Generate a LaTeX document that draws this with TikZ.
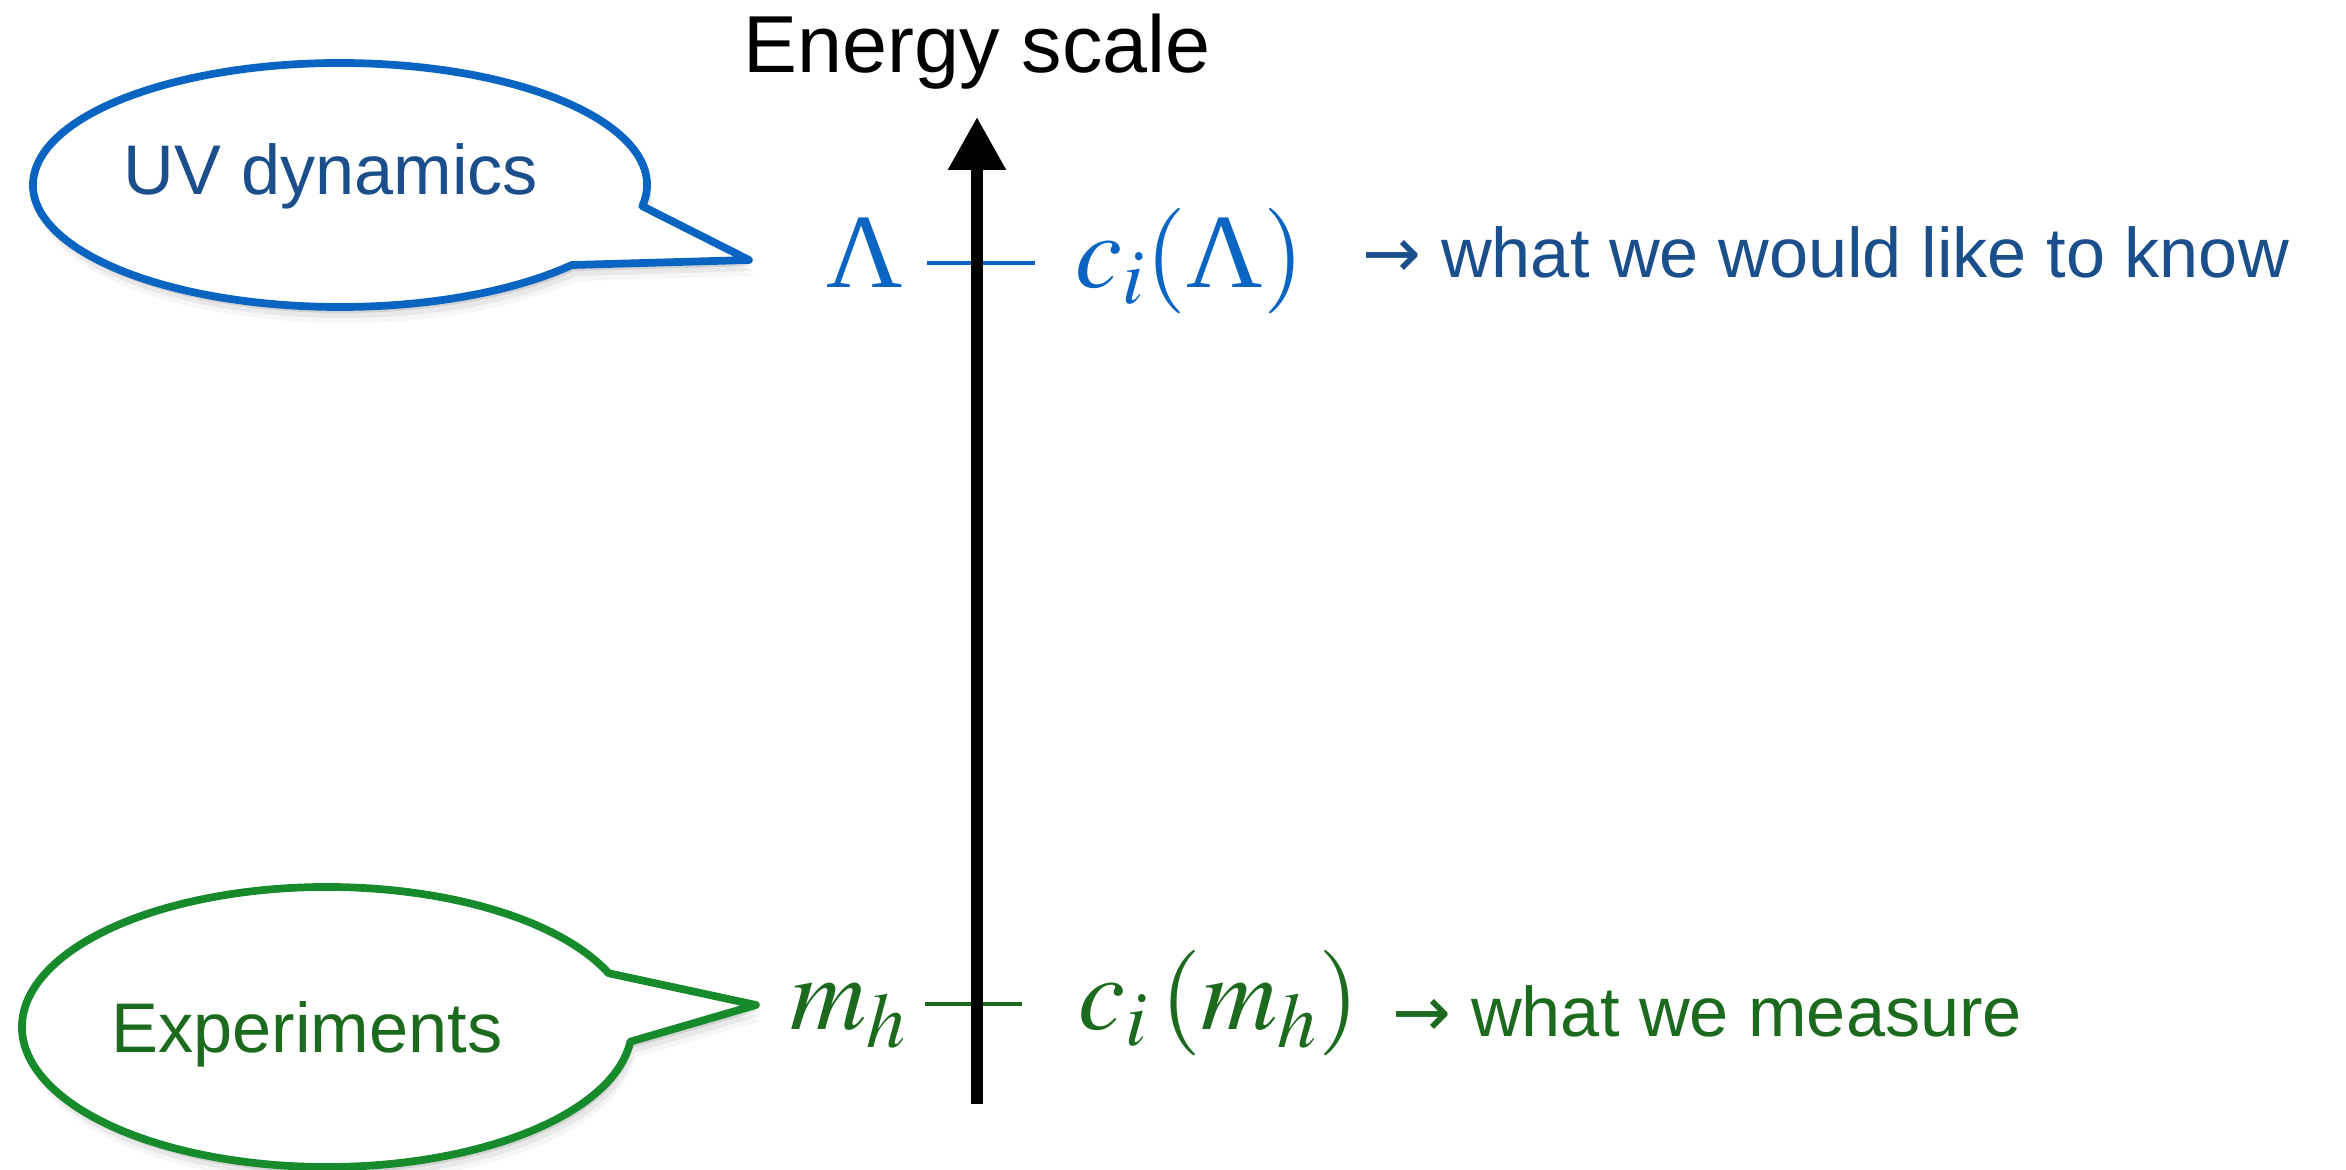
\RequirePackage{fix-cm}
\documentclass[tikz,border=0pt]{standalone}
\usepackage{mathptmx}
\usepackage{fontspec}
\setmainfont{Liberation Sans}
\newfontfamily\arrowfont{DejaVu Sans}
\newfontfamily\serifgreek{Liberation Serif}
\newcommand{\Lam}{\mbox{\serifgreek Λ}}
\usetikzlibrary{positioning,arrows.meta,calc,shadows}
\definecolor{UVblue}{HTML}{0A64C2}
\definecolor{UVtext}{HTML}{1A4F8C}
\definecolor{EXgreen}{HTML}{178A2C}
\definecolor{EXtext}{HTML}{1B6A1E}
\tikzset{
  axis/.style={line width=3.4pt,-{Triangle[length=5.3mm,width=5.5mm]}},
  scaletick/.style={line width=1.2pt},
  bubble/.style={line width=2.2pt,fill=white,line join=round,
    drop shadow={shadow xshift=0.5mm,shadow yshift=-1.6mm,opacity=0.07},
    drop shadow={shadow xshift=0.4mm,shadow yshift=-1.1mm,opacity=0.12},
    drop shadow={shadow xshift=0.2mm,shadow yshift=-0.6mm,opacity=0.22}},
  lbl/.style={font=\fontsize{20}{24}\selectfont,inner sep=0pt},
  mathlbl/.style={font=\fontsize{30}{34}\selectfont,inner sep=0pt}
}

\begin{document}
\begin{tikzpicture}
\useasboundingbox (0,0) rectangle (23.46,-11.70);

% speech bubbles
\coordinate (uvc) at (3.40,-1.85);
\coordinate (uvtip) at (7.49,-2.60);
\draw[bubble, draw=UVblue] ($(uvc)+(-10:3.07 and 1.22)$) arc[start angle=-10,end angle=319,x radius=3.07,y radius=1.22] -- (uvtip) -- cycle;
\node[lbl, text=UVtext, anchor=base] (uv) at (3.31,-1.95) {UV dynamics};

\coordinate (exc) at (3.27,-10.27);
\coordinate (extip) at (7.56,-10.05);
\draw[bubble, draw=EXgreen] ($(exc)+(22.6:3.05 and 1.40)$) arc[start angle=22.6,end angle=354,x radius=3.05,y radius=1.40] -- (extip) -- cycle;
\node[lbl, text=EXtext, anchor=base] (ex) at (3.07,-10.52) {Experiments};

% scale ticks
\coordinate (lamL) at (9.27,-2.63);
\coordinate (lamR) at (10.35,-2.63);
\draw[scaletick, UVblue] (lamL) -- (lamR);
\coordinate (mhL) at (9.25,-10.04);
\coordinate (mhR) at (10.22,-10.04);
\draw[scaletick, EXtext] (mhL) -- (mhR);

% energy axis
\coordinate (axbot) at (9.77,-11.04);
\coordinate (axtop) at (9.77,-1.17);
\draw[axis] (axbot) -- (axtop);
\node[lbl, font=\fontsize{23}{27}\selectfont, anchor=base] (escale) at (9.77,-0.73) {Energy scale};

% labels at the two scales
\node[mathlbl, text=UVblue, anchor=base east] (lam) at (9.04,-2.88) {$\Lam$};
\node[mathlbl, text=UVblue, anchor=base west] (clam) at (10.75,-2.88) {$c_i(\Lam)$};
\node[lbl, text=UVtext, anchor=base west] (know) at (13.62,-2.78) {{\arrowfont →} what we would like to know};

\node[mathlbl, text=EXtext, anchor=base east] (mh) at (9.08,-10.30) {$m_h$};
\node[mathlbl, text=EXtext, anchor=base west] (cmh) at (10.78,-10.30) {$c_i\,(m_h)$};
\node[lbl, text=EXtext, anchor=base west] (meas) at (13.92,-10.37) {{\arrowfont →} what we measure};
\end{tikzpicture}
\end{document}
